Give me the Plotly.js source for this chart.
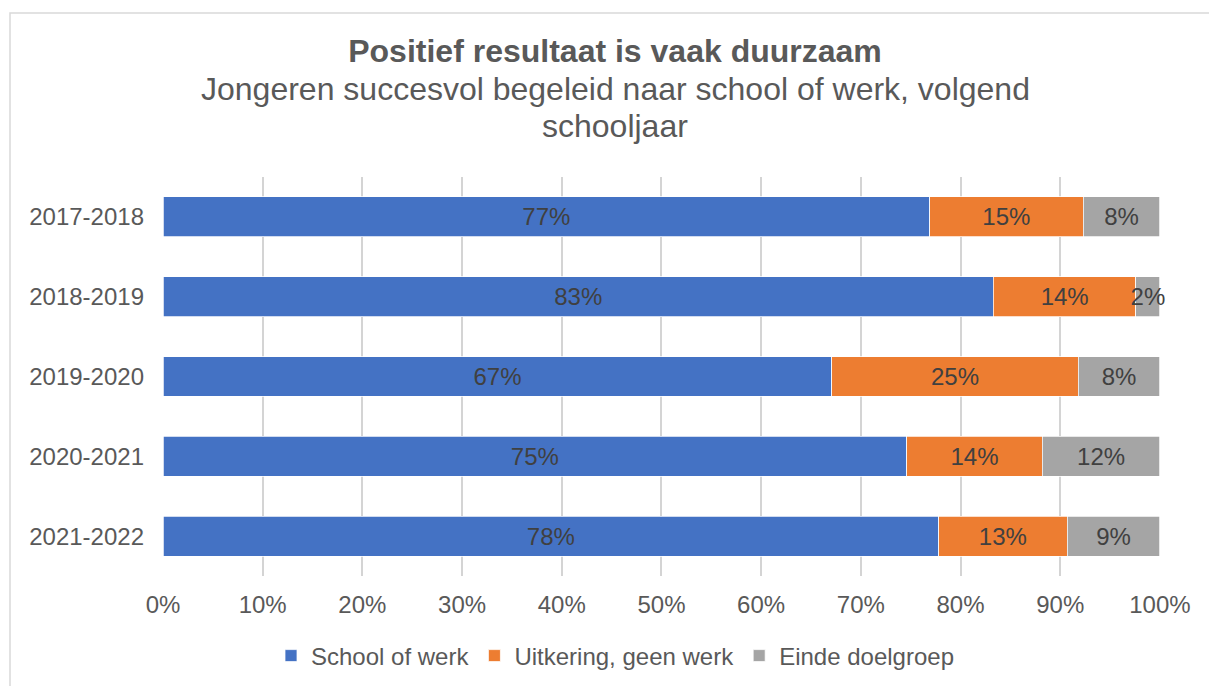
<!DOCTYPE html>
<html>
<head>
<meta charset="utf-8">
<script src="https://cdn.plot.ly/plotly-3.0.1.min.js"></script>
<style>
  html, body { margin: 0; padding: 0; background: #ffffff; }
  #chart { width: 1209px; height: 686px; }
</style>
</head>
<body>
<div id="chart"></div>
<script>
// ---- Data ----
const years = ['2017-2018', '2018-2019', '2019-2020', '2020-2021', '2021-2022'];
const schoolOfWerk = [76.9, 83.3, 67.1, 74.6, 77.8];
const uitkeringGeenWerk = [15.4, 14.3, 24.7, 13.6, 12.9];
const eindeDoelgroep = [7.7, 2.4, 8.2, 11.8, 9.3];
const seriesNames = ['School of werk', 'Uitkering, geen werk', 'Einde doelgroep'];
const tickValues = [0, 10, 20, 30, 40, 50, 60, 70, 80, 90, 100];

const titleText = 'Positief resultaat is vaak duurzaam';
const subtitleLine1 = 'Jongeren succesvol begeleid naar school of werk, volgend';
const subtitleLine2 = 'schooljaar';

// ---- Styles ----
const colors = ['#4472C4', '#ED7D31', '#A5A5A5'];
const FONT = 'Liberation Sans, Arial, sans-serif';
const textGray = '#595959';
const labelGray = '#404040';

function mkTrace(vals, name, color) {
  return {
    type: 'bar',
    orientation: 'h',
    y: years,
    x: vals,
    name: name,
    marker: { color: color, line: { color: '#ffffff', width: 0.75 } },
    texttemplate: '%{x:.0f}%',
    textposition: 'inside',
    insidetextanchor: 'middle',
    constraintext: 'none',
    cliponaxis: false,
    textangle: 0,
    textfont: { family: FONT, size: 24, color: labelGray },
    hoverinfo: 'x+y+name'
  };
}

const data = [
  mkTrace(schoolOfWerk, seriesNames[0], colors[0]),
  mkTrace(uitkeringGeenWerk, seriesNames[1], colors[1]),
  mkTrace(eindeDoelgroep, seriesNames[2], colors[2])
];

const W = 1209, H = 686;
const mL = 163, mR = 49, mT = 177, mB = 110;
const TS = 32;

const layout = {
  width: W,
  height: H,
  margin: { l: mL, r: mR, t: mT, b: mB, pad: 0 },
  paper_bgcolor: '#ffffff',
  plot_bgcolor: '#ffffff',
  barmode: 'stack',
  bargap: 0.5,
  font: { family: FONT, size: 24, color: textGray },
  title: {
    text: '<b>' + titleText + '</b>',
    font: { family: FONT, size: TS, color: textGray },
    xref: 'container', x: 615 / W, xanchor: 'center',
    yref: 'container', y: 1 - 51 / H, yanchor: 'middle'
  },
  annotations: [
    {
      text: subtitleLine1, showarrow: false,
      xref: 'paper', x: (615 - mL) / (W - mL - mR), xanchor: 'center',
      yref: 'paper', y: 1 + (mT - 89) / (H - mT - mB), yanchor: 'middle',
      font: { family: FONT, size: TS, color: textGray }
    },
    {
      text: subtitleLine2, showarrow: false,
      xref: 'paper', x: (615 - mL) / (W - mL - mR), xanchor: 'center',
      yref: 'paper', y: 1 + (mT - 126) / (H - mT - mB), yanchor: 'middle',
      font: { family: FONT, size: TS, color: textGray }
    }
  ],
  xaxis: {
    range: [0, 100.01],
    tickvals: tickValues,
    ticktext: tickValues.map(v => v + '%'),
    showgrid: true,
    gridcolor: '#d4d4d4',
    gridwidth: 1.5,
    zeroline: false,
    showline: false,
    ticks: '',
    ticklabelstandoff: 12,
    tickfont: { family: FONT, size: 24, color: textGray },
    fixedrange: true
  },
  yaxis: {
    autorange: 'reversed',
    showgrid: false,
    zeroline: false,
    showline: false,
    ticks: '',
    ticklabelstandoff: 18,
    tickfont: { family: FONT, size: 24, color: textGray },
    fixedrange: true
  },
  showlegend: true,
  legend: {
    orientation: 'h',
    xref: 'container', x: 615 / W, xanchor: 'center',
    yref: 'container', y: 1 - 656 / H, yanchor: 'middle',
    font: { family: FONT, size: 24, color: textGray },
    traceorder: 'normal',
    itemclick: false,
    itemdoubleclick: false
  },
  shapes: [
    {
      type: 'rect', xref: 'paper', yref: 'paper',
      x0: (10 - mL) / (W - mL - mR), x1: (W + 20 - mL) / (W - mL - mR),
      y0: -1, y1: 1 + (mT - 13) / (H - mT - mB),
      line: { color: '#d9d9d9', width: 1.5 },
      fillcolor: 'rgba(0,0,0,0)',
      layer: 'below'
    }
  ]
};

Plotly.newPlot('chart', data, layout, { displayModeBar: false, staticPlot: false });
</script>
</body>
</html>
